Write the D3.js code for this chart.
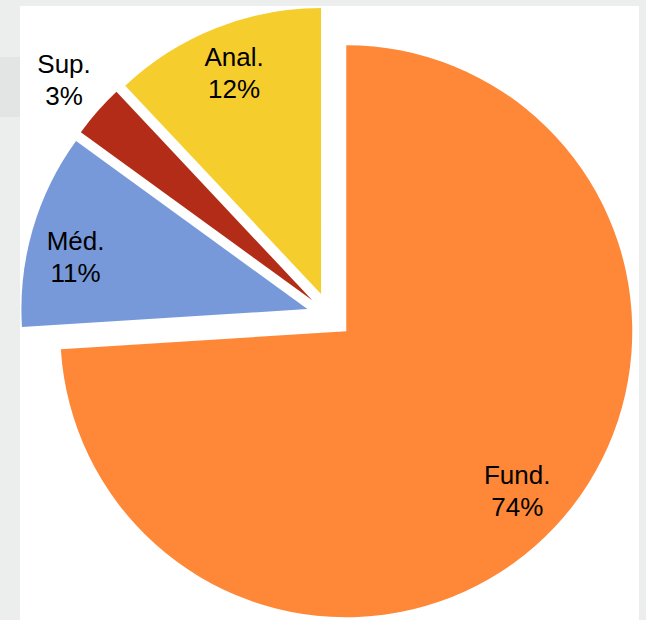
<!DOCTYPE html>
<html>
<head>
<meta charset="utf-8">
<script src="https://cdn.jsdelivr.net/npm/d3@7"></script>
<style>
  body { margin: 0; background: #eceeee; }
  text { font-family: "Liberation Sans", Arial, sans-serif; fill: #000; }
</style>
</head>
<body>
<div id="chart"></div>
<script>
'use strict';

const categories = ['Fund.', 'Méd.', 'Sup.', 'Anal.'];
const values = [74, 11, 3, 12];
const labels = ['74%', '11%', '3%', '12%'];
const colors = ['#fe8838', '#7799d9', '#b22c18', '#f5ce2e'];

const W = 646, H = 620;
const cx = 329.5, cy = 315.5;
const radius = 286;
const explode = 23;

// label placement: fraction of radius from slice centre, angle nudge (deg)
const labelPos = {
  'Fund.': [0.82, 0],
  'Méd.': [0.83, -3.8],
  'Sup.': [1.157, 0],
  'Anal.': [0.826, 0]
};

const svg = d3.select('#chart').append('svg')
  .attr('width', W)
  .attr('height', H);

// gray page behind, white chart panel
svg.append('rect')
  .attr('width', W).attr('height', H)
  .attr('fill', '#eceeee');
svg.append('rect')
  .attr('x', 0).attr('y', 57).attr('width', 20).attr('height', 60)
  .attr('fill', '#e3e4e4');
svg.append('rect')
  .attr('x', 20).attr('y', 6)
  .attr('width', 619).attr('height', H - 6)
  .attr('fill', '#fff');

const data = categories.map(function (c, i) {
  return { name: c, value: values[i], label: labels[i], color: colors[i] };
});

const pie = d3.pie()
  .sort(null)
  .value(function (d) { return d.value; });

const arc = d3.arc()
  .innerRadius(0)
  .outerRadius(radius);

const arcs = pie(data);

function midAngle(d) {
  return (d.startAngle + d.endAngle) / 2;
}

function polar(a, dist) {
  return [Math.sin(a) * dist, -Math.cos(a) * dist];
}

const g = svg.append('g')
  .attr('transform', 'translate(' + cx + ',' + cy + ')');

g.selectAll('.slice')
    .data(arcs)
  .enter().append('path')
    .classed('slice', true)
    .attr('d', arc)
    .attr('fill', function (d) { return d.data.color; })
    .attr('transform', function (d) {
      const s = polar(midAngle(d), explode);
      return 'translate(' + s[0] + ',' + s[1] + ')';
    });

const lbl = g.selectAll('.lbl')
    .data(arcs)
  .enter().append('text')
    .classed('lbl', true)
    .attr('text-anchor', 'middle')
    .style('font-size', '26px')
    .attr('transform', function (d) {
      const p = labelPos[d.data.name];
      const o = polar(midAngle(d), explode);
      const s = polar(midAngle(d) + p[1] * Math.PI / 180, radius * p[0]);
      return 'translate(' + (o[0] + s[0]) + ',' + (o[1] + s[1]) + ')';
    });

lbl.append('tspan')
  .attr('x', 0)
  .attr('y', -8)
  .text(function (d) { return d.data.name; });
lbl.append('tspan')
  .attr('x', 0)
  .attr('y', 24)
  .text(function (d) { return d.data.label; });
</script>
</body>
</html>
